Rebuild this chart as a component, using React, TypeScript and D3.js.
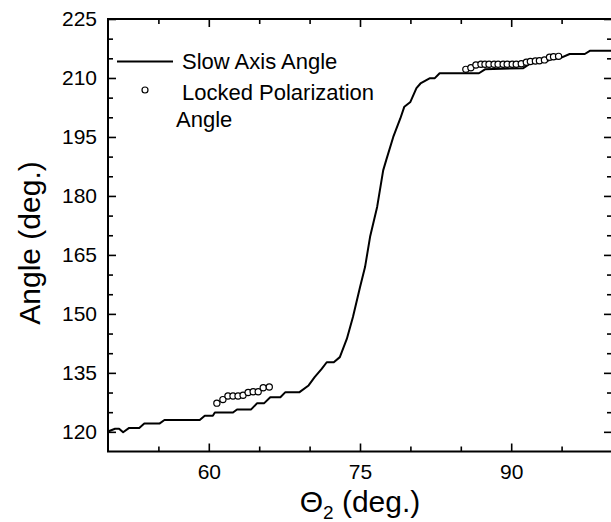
import { useEffect, useRef } from "react";
import * as d3 from "d3";

// Slow axis angle curve (theta2 in deg, angle in deg)
const slowX = [
  50.0, 50.7, 51.1, 51.5, 52.1, 53.1, 53.6, 55.1, 55.6, 59.1, 59.6, 60.4, 60.6, 62.4, 62.8,
  64.2, 64.8, 65.5, 66.1, 67.1, 67.6, 69.0, 69.9, 70.5, 71.2, 71.7, 72.4, 73.0, 73.7, 74.3,
  75.0, 75.5, 76.0, 76.7, 77.3, 77.6, 78.3, 79.0, 79.4, 80.0, 80.6, 81.0, 81.9, 82.4, 82.9,
  86.8, 87.4, 91.2, 91.9, 92.5, 93.5, 94.0, 94.8, 95.8, 97.3, 97.8, 100.0,
];
const slowY = [
  120.1, 120.8, 120.8, 119.9, 121.0, 121.0, 122.1, 122.1, 123.0, 123.0, 124.1, 124.1, 124.9,
  124.9, 125.7, 125.7, 127.3, 127.3, 128.8, 128.8, 130.1, 130.1, 131.8, 133.9, 136.0, 137.7,
  137.7, 139.0, 143.7, 149.2, 156.8, 161.9, 169.6, 177.2, 186.5, 189.1, 195.0, 199.7, 202.7,
  203.9, 207.4, 208.6, 209.9, 209.9, 211.2, 211.2, 212.2, 212.5, 213.7, 213.9, 214.2, 214.8,
  215.0, 216.1, 216.1, 216.9, 216.9,
];

// Locked polarization angle points
const lockX = [
  60.8, 61.4, 61.9, 62.4, 62.9, 63.4, 63.9, 64.4, 64.9, 65.4, 66.0,
  85.5, 86.0, 86.5, 87.0, 87.4, 87.8, 88.3, 88.7, 89.2, 89.6, 90.1, 90.5, 91.0, 91.5, 91.9,
  92.4, 92.8, 93.3, 93.8, 94.2, 94.7,
];
const lockY = [
  127.3, 128.2, 129.1, 129.1, 129.1, 129.3, 130.0, 130.2, 130.2, 131.2, 131.4,
  212.2, 212.6, 213.3, 213.5, 213.5, 213.5, 213.5, 213.5, 213.5, 213.5, 213.5, 213.5, 213.6,
  214.0, 214.2, 214.3, 214.4, 214.6, 215.3, 215.4, 215.5,
];

const xMajor = [60, 75, 90];
const xMinor = [55, 65, 70, 80, 85, 95];
const yMajor = [120, 135, 150, 165, 180, 195, 210, 225];
const yMinor = [125, 130, 140, 145, 155, 160, 170, 175, 185, 190, 200, 205, 215, 220];

const FONT = "'Liberation Sans', Arial, Helvetica, sans-serif";

export default function App() {
  const ref = useRef<SVGSVGElement>(null);
  const width = 611;
  const height = 522;
  const left = 108;
  const right = 612;
  const top = 19;
  const bottom = 451.5;

  useEffect(() => {
    document.body.style.margin = "0";
    if (!ref.current) return;
    const svg = d3.select(ref.current);
    svg.selectAll("*").remove();

    const x = d3.scaleLinear().domain([50, 100]).range([left, right]);
    const y = d3.scaleLinear().domain([115, 225]).range([bottom, top]);

    const styleAxis = (g: d3.Selection<SVGGElement, unknown, null, undefined>) => {
      g.select(".domain").remove();
      g.selectAll(".tick line").attr("stroke", "#000").attr("stroke-width", 1.6);
      g.selectAll(".tick text")
        .attr("fill", "#000")
        .attr("font-family", FONT)
        .attr("font-size", 21);
    };

    // left axis (labelled)
    svg.append("g")
      .attr("transform", `translate(${left},0)`)
      .call(d3.axisLeft(y).tickValues(yMajor).tickSize(-8).tickPadding(11).tickFormat(d3.format("d")))
      .call(styleAxis);
    svg.append("g")
      .attr("transform", `translate(${left},0)`)
      .call(d3.axisLeft(y).tickValues(yMinor).tickSize(-5).tickFormat(() => ""))
      .call(styleAxis);

    // right axis
    svg.append("g")
      .attr("transform", `translate(${right},0)`)
      .call(d3.axisRight(y).tickValues(yMajor).tickSize(-8).tickFormat(() => ""))
      .call(styleAxis);
    svg.append("g")
      .attr("transform", `translate(${right},0)`)
      .call(d3.axisRight(y).tickValues(yMinor).tickSize(-5).tickFormat(() => ""))
      .call(styleAxis);

    // bottom axis (labelled)
    svg.append("g")
      .attr("transform", `translate(0,${bottom})`)
      .call(d3.axisBottom(x).tickValues(xMajor).tickSize(-8).tickPadding(13).tickFormat(d3.format("d")))
      .call(styleAxis);
    svg.append("g")
      .attr("transform", `translate(0,${bottom})`)
      .call(d3.axisBottom(x).tickValues(xMinor).tickSize(-5).tickFormat(() => ""))
      .call(styleAxis);

    // top axis
    svg.append("g")
      .attr("transform", `translate(0,${top})`)
      .call(d3.axisTop(x).tickValues(xMajor).tickSize(-8).tickFormat(() => ""))
      .call(styleAxis);
    svg.append("g")
      .attr("transform", `translate(0,${top})`)
      .call(d3.axisTop(x).tickValues(xMinor).tickSize(-5).tickFormat(() => ""))
      .call(styleAxis);

    // frame
    svg.append("rect")
      .attr("x", left)
      .attr("y", top)
      .attr("width", right - left)
      .attr("height", bottom - top)
      .attr("fill", "none")
      .attr("stroke", "#000")
      .attr("stroke-width", 2);

    // slow axis line
    const pts = slowX.map((v, i) => [v, slowY[i]] as [number, number]);
    const line = d3.line<[number, number]>().x((d) => x(d[0])).y((d) => y(d[1]));
    svg.append("path")
      .datum(pts)
      .attr("d", line)
      .attr("fill", "none")
      .attr("stroke", "#000")
      .attr("stroke-width", 2)
      .attr("stroke-linejoin", "round");

    // locked polarization circles
    svg.append("g")
      .selectAll("circle")
      .data(lockX.map((v, i) => [v, lockY[i]]))
      .join("circle")
      .attr("cx", (d) => x(d[0]))
      .attr("cy", (d) => y(d[1]))
      .attr("r", 3.1)
      .attr("fill", "#fff")
      .attr("stroke", "#000")
      .attr("stroke-width", 1.2);

    // legend
    const lg = svg.append("g").attr("font-family", FONT).attr("font-size", 22).attr("fill", "#000");
    lg.append("line")
      .attr("x1", 117).attr("x2", 173).attr("y1", 61.5).attr("y2", 61.5)
      .attr("stroke", "#000").attr("stroke-width", 2);
    lg.append("text").attr("x", 182).attr("y", 68.5).text("Slow Axis Angle");
    lg.append("circle")
      .attr("cx", 145).attr("cy", 90).attr("r", 3)
      .attr("fill", "#fff").attr("stroke", "#000").attr("stroke-width", 1.2);
    lg.append("text").attr("x", 182).attr("y", 100).text("Locked Polarization");
    lg.append("text").attr("x", 176).attr("y", 127).text("Angle");

    // axis titles
    svg.append("text")
      .attr("transform", "translate(40,243) rotate(-90)")
      .attr("text-anchor", "middle")
      .attr("font-family", FONT)
      .attr("font-size", 30)
      .text("Angle (deg.)");

    const xt = svg.append("text")
      .attr("x", 360)
      .attr("y", 512)
      .attr("text-anchor", "middle")
      .attr("font-family", FONT)
      .attr("font-size", 30);
    xt.append("tspan").text("\u0398");
    xt.append("tspan").attr("font-size", 19).attr("dy", 7).text("2");
    xt.append("tspan").attr("dy", -7).text(" (deg.)");
  }, []);

  return <svg ref={ref} width={width} height={height} style={{ display: "block", background: "#fff" }} />;
}
